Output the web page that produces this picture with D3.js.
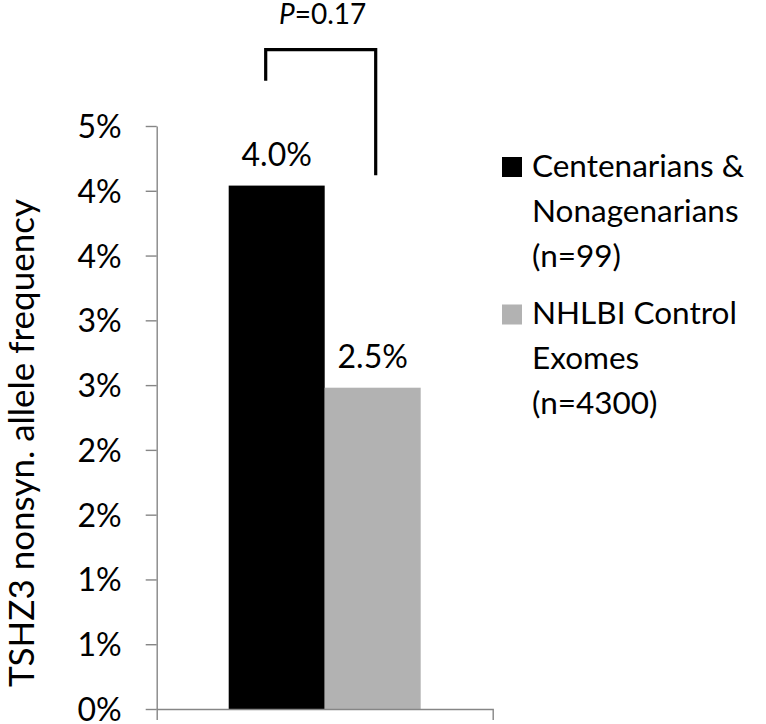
<!DOCTYPE html>
<html>
<head>
<meta charset="utf-8">
<script src="https://cdn.jsdelivr.net/npm/d3@7"></script>
<style>
  html, body { margin: 0; padding: 0; background: #fff; }
  svg { display: block; }
  text { font-family: Lato, "Open Sans", sans-serif; fill: #000; }
</style>
</head>
<body>
<svg id="chart" width="766" height="724"></svg>
<script>
// ---- data ----
const categories = ["Centenarians & Nonagenarians (n=99)", "NHLBI Control Exomes (n=4300)"];
const values = [4.04, 2.48];              // allele frequency, %
const valueLabels = ["4.0%", "2.5%"];
const barColors = ["#000000", "#b2b2b2"];
const legendLines = [["Centenarians &", "Nonagenarians", "(n=99)"],
                     ["NHLBI Control", "Exomes", "(n=4300)"]];
const yTickValues = [0, 0.5, 1, 1.5, 2, 2.5, 3, 3.5, 4, 4.5];
const yTickLabels = ["0%", "1%", "1%", "2%", "2%", "3%", "3%", "4%", "4%", "5%"];
const yTitle = "TSHZ3 nonsyn. allele frequency";
const pLabel = "0.17";
// bracket heights in data units (%)
const bracketTop = 5.09, bracketLeftEnd = 4.85, bracketRightEnd = 4.12;

// ---- layout ----
const svg = d3.select("#chart");
const plot = { left: 156.7, right: 492.7, top: 126, bottom: 709 };
const axisColor = "#868686";

const y = d3.scaleLinear().domain([0, 4.5]).range([plot.bottom, plot.top]);
const x = d3.scaleBand().domain(categories).range([plot.left, plot.right])
  .paddingInner(0).paddingOuter(0.75);

// bars
svg.append("g").selectAll("rect").data(categories).join("rect")
  .attr("x", d => x(d))
  .attr("width", x.bandwidth())
  .attr("y", (d, i) => y(values[i]))
  .attr("height", (d, i) => y(0) - y(values[i]))
  .attr("fill", (d, i) => barColors[i]);

// y axis
const yAxis = d3.axisLeft(y).tickValues(yTickValues)
  .tickFormat((d, i) => yTickLabels[i])
  .tickSize(11).tickSizeOuter(0).tickPadding(24);
const gy = svg.append("g").attr("transform", `translate(${plot.left},0)`).call(yAxis);
gy.selectAll("path, line").attr("stroke", axisColor).attr("stroke-width", 1.4);
gy.selectAll("text").attr("font-size", 32).attr("fill", "#000")
  .attr("font-family", "Lato, sans-serif").attr("dy", "0.36em");

// x axis (single category, boundary ticks)
const xOuter = d3.scaleLinear().domain([0, 1]).range([plot.left, plot.right]);
const xAxis = d3.axisBottom(xOuter).tickValues([]).tickSizeOuter(11);
const gx = svg.append("g").attr("transform", `translate(0,${plot.bottom})`).call(xAxis);
gx.selectAll("path").attr("stroke", axisColor).attr("stroke-width", 1.4);

// value labels
svg.append("g").selectAll("text").data(categories).join("text")
  .attr("x", d => x(d) + x.bandwidth() / 2)
  .attr("y", (d, i) => y(values[i]) - 20)
  .attr("text-anchor", "middle")
  .attr("font-size", 32)
  .text((d, i) => valueLabels[i]);

// y title
svg.append("text")
  .attr("transform", `translate(34,${443}) rotate(-90)`)
  .attr("text-anchor", "middle")
  .attr("font-size", 35)
  .text(yTitle);

// significance bracket
const bx1 = x(categories[0]) + x.bandwidth() / 2 - 11;
const bx2 = x(categories[1]) + x.bandwidth() / 2 + 3;
svg.append("path")
  .attr("d", `M${bx1},${y(bracketLeftEnd)}V${y(bracketTop)}H${bx2}V${y(bracketRightEnd)}`)
  .attr("fill", "none").attr("stroke", "#000").attr("stroke-width", 3.2);
const pt = svg.append("text")
  .attr("x", (bx1 + bx2) / 2 + 2).attr("y", 24)
  .attr("text-anchor", "middle").attr("font-size", 28);
pt.append("tspan").attr("font-style", "italic").text("P");
pt.append("tspan").text("=" + pLabel);

// legend
const lg = svg.append("g");
const groupTops = [176.5, 324];
legendLines.forEach((lines, i) => {
  lg.append("rect").attr("x", 502).attr("y", groupTops[i] - 19.5)
    .attr("width", 20).attr("height", 20).attr("fill", barColors[i]);
  lines.forEach((ln, j) => {
    lg.append("text").attr("x", 532).attr("y", groupTops[i] + j * 45)
      .attr("font-size", 31.5).text(ln);
  });
});
</script>
</body>
</html>
